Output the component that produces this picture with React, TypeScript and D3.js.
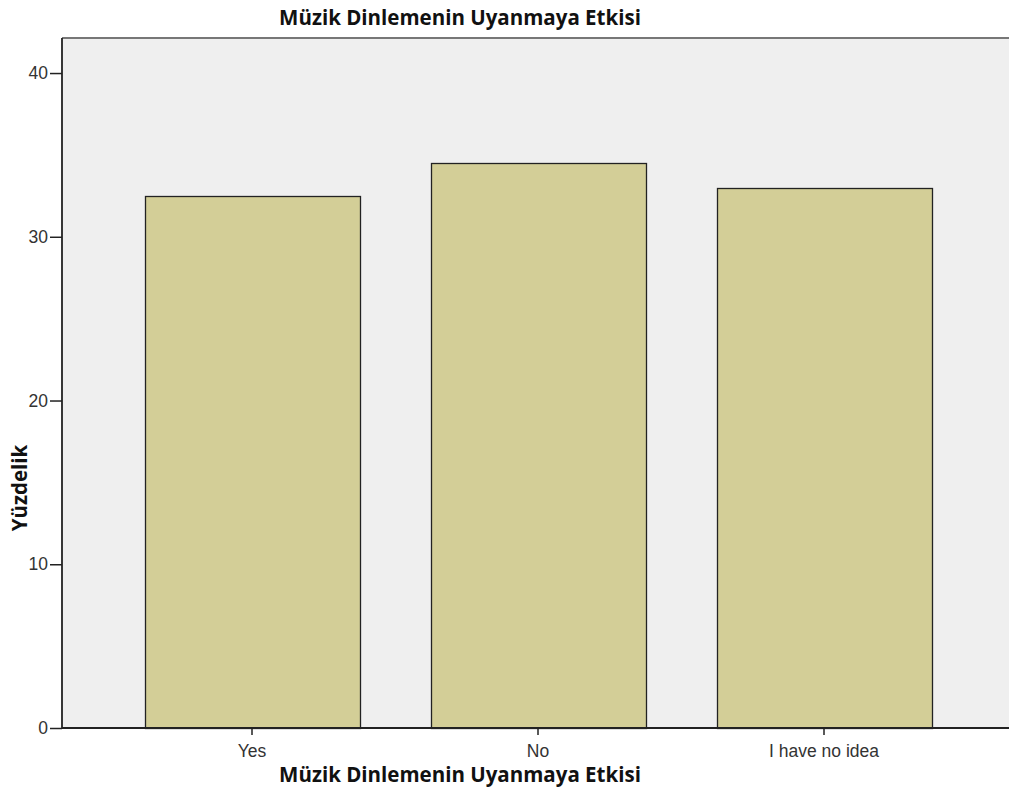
import { useEffect, useRef } from 'react';
import * as d3 from 'd3';

const categories = ['Yes', 'No', 'I have no idea'];
const percents = [32.5, 34.5, 33.0];
const yTicks = [0, 10, 20, 30, 40];

const title = 'Müzik Dinlemenin Uyanmaya Etkisi';
const yLabel = 'Yüzdelik';

const App = () => {
  const ref = useRef<SVGSVGElement | null>(null);

  useEffect(() => {
    if (!ref.current) return;
    const svg = d3.select(ref.current);
    svg.selectAll('*').remove();

    const width = 1009;
    const height = 792;
    const left = 62;
    const top = 38;
    const bottom = 728;
    const tickFont = 'Arial, "Liberation Sans", sans-serif';
    const titleFont = '"Open Sans", "Noto Sans", sans-serif';

    svg.attr('width', width).attr('height', height);

    // plot background
    svg.append('rect')
      .attr('x', left)
      .attr('y', top)
      .attr('width', width - left)
      .attr('height', bottom - top)
      .attr('fill', '#efefef');

    // top border
    svg.append('line')
      .attr('x1', left).attr('x2', width)
      .attr('y1', top).attr('y2', top)
      .attr('stroke', '#777')
      .attr('stroke-width', 2);

    const x = d3.scaleBand<string>()
      .domain(categories)
      .range([109, 967])
      .paddingInner(0.25)
      .paddingOuter(0.125);

    const y = d3.scaleLinear()
      .domain([0, 42.14])
      .range([bottom, top]);

    // bars
    svg.append('g')
      .selectAll('rect')
      .data(categories)
      .enter()
      .append('rect')
      .attr('x', d => Math.round(x(d) || 0) + 0.5)
      .attr('y', (d, i) => Math.round(y(percents[i])) + 0.5)
      .attr('width', Math.round(x.bandwidth()))
      .attr('height', (d, i) => bottom - Math.round(y(percents[i])))
      .attr('fill', '#d3ce97')
      .attr('stroke', '#222')
      .attr('stroke-width', 1.3);

    // y axis
    const yAxis = svg.append('g')
      .attr('transform', `translate(${left},0)`)
      .call(d3.axisLeft(y).tickValues(yTicks).tickSize(12).tickPadding(2).tickFormat(d3.format('d')));
    yAxis.select('.domain').attr('stroke', '#222').attr('stroke-width', 1.8).attr('d', `M0,${top}V${bottom}`);
    yAxis.selectAll('.tick line').attr('stroke', '#222').attr('stroke-width', 1.5);
    yAxis.selectAll('.tick text')
      .attr('fill', '#333')
      .style('font-family', tickFont)
      .style('font-size', '17.5px');

    // x axis
    const xAxis = svg.append('g')
      .attr('transform', `translate(0,${bottom})`)
      .call(d3.axisBottom(x).tickSize(7).tickPadding(10));
    xAxis.select('.domain').attr('stroke', '#222').attr('stroke-width', 1.8).attr('d', `M${left},0H${width}`);
    xAxis.selectAll('.tick line').attr('stroke', '#222').attr('stroke-width', 1.5);
    xAxis.selectAll('.tick text')
      .attr('fill', '#333')
      .style('font-family', tickFont)
      .style('font-size', '17.5px');

    // title
    svg.append('text')
      .attr('x', 460)
      .attr('y', 25)
      .attr('text-anchor', 'middle')
      .attr('fill', '#111')
      .style('font-family', titleFont)
      .style('font-weight', 'bold')
      .style('font-size', '20.5px')
      .text(title);

    // x axis title
    svg.append('text')
      .attr('x', 460)
      .attr('y', 782)
      .attr('text-anchor', 'middle')
      .attr('fill', '#111')
      .style('font-family', titleFont)
      .style('font-weight', 'bold')
      .style('font-size', '20.5px')
      .text(title);

    // y axis title
    svg.append('text')
      .attr('transform', 'translate(27,488) rotate(-90)')
      .attr('text-anchor', 'middle')
      .attr('fill', '#111')
      .style('font-family', titleFont)
      .style('font-weight', 'bold')
      .style('font-size', '20.5px')
      .text(yLabel);
  }, []);

  return (
    <div style={{ position: 'absolute', left: 0, top: 0 }}>
      <svg ref={ref} style={{ display: 'block' }}></svg>
    </div>
  );
};

export default App;
